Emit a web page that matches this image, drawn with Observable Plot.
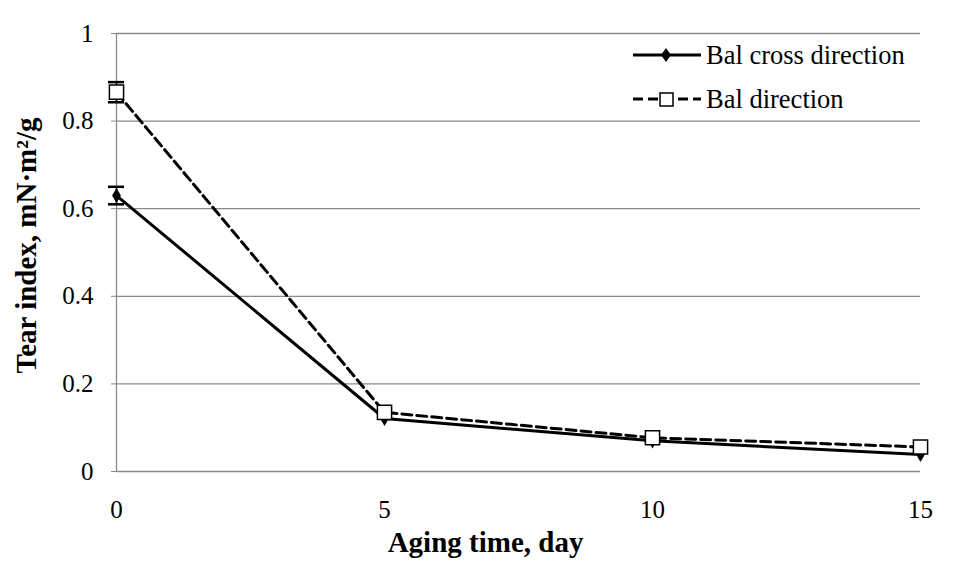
<!DOCTYPE html>
<html>
<head>
<meta charset="utf-8">
<script src="https://cdn.jsdelivr.net/npm/d3@7"></script>
<script src="https://cdn.jsdelivr.net/npm/@observablehq/plot@0.6"></script>
<style>
  html, body { margin: 0; padding: 0; background: #fff; }
  #wrap { position: relative; width: 962px; height: 579px; font-family: 'Liberation Serif', 'DejaVu Serif', serif; }
  #legend { position: absolute; left: 630px; top: 33px; width: 288px; font-size: 26.5px; color: #000; }
  #legend .row { display: flex; align-items: center; height: 44px; }
  #legend svg { display: block; margin-right: 2px; }
</style>
</head>
<body>
<div id="wrap"></div>
<script>
const days = [0, 5, 10, 15];
const crossValues = [0.630, 0.121, 0.070, 0.039];
const crossErrors = [0.020, 0, 0, 0];
const dirValues = [0.866, 0.135, 0.077, 0.056];
const dirErrors = [0.023, 0, 0, 0];
const seriesNames = ["Bal cross direction", "Bal direction"];
const yTicks = [0, 0.2, 0.4, 0.6, 0.8, 1];
const xTicks = [0, 5, 10, 15];

const cross = days.map((d, i) => ({day: d, value: crossValues[i], err: crossErrors[i]}));
const dir = days.map((d, i) => ({day: d, value: dirValues[i], err: dirErrors[i]}));
const errRows = [...cross, ...dir].filter(r => r.err > 0);
const caps = errRows.flatMap(r => [{day: r.day, y: r.value - r.err}, {day: r.day, y: r.value + r.err}]);
const capHalf = 0.15; // cap half-width in days

const serif = "'Liberation Serif', 'DejaVu Serif', serif";

const plot = Plot.plot({
  width: 962,
  height: 579,
  marginLeft: 116,
  marginRight: 42,
  marginTop: 33,
  marginBottom: 108,
  style: {fontFamily: serif, background: "#fff", color: "#000"},
  x: {type: "linear", domain: [0, 15], ticks: xTicks, axis: null},
  y: {type: "linear", domain: [0, 1], ticks: yTicks, axis: null},
  marks: [
    Plot.ruleY(yTicks, {stroke: "#8a8a8a", strokeWidth: 1.3}),
    Plot.ruleX([0], {stroke: "#8a8a8a", strokeWidth: 1.3}),
    Plot.axisY(yTicks, {tickSize: 5, tickPadding: 18, stroke: "#8a8a8a", fontSize: 25, tickFormat: d => String(d), label: null}),
    Plot.axisX(xTicks, {tickSize: 0, tickPadding: 29, fontSize: 25, tickFormat: d => String(d), label: null}),
    Plot.text(["Aging time, day"], {frameAnchor: "bottom", textAnchor: "middle", dx: -33, dy: 80, fontSize: 29, fontWeight: "bold"}),
    Plot.text(["Tear index, mN·m²/g"], {frameAnchor: "left", textAnchor: "middle", dx: -90, dy: -7, rotate: -90, fontSize: 29, fontWeight: "bold"}),
    Plot.line(cross, {x: "day", y: "value", stroke: "#000", strokeWidth: 3}),
    Plot.line(dir, {x: "day", y: "value", stroke: "#000", strokeWidth: 3, strokeDasharray: "10,5"}),
    Plot.ruleX(errRows, {x: "day", y1: d => d.value - d.err, y2: d => d.value + d.err, stroke: "#000", strokeWidth: 1.5}),
    Plot.ruleY(caps, {y: "y", x1: d => d.day - capHalf, x2: d => d.day + capHalf, stroke: "#000", strokeWidth: 2.5}),
    Plot.dot(cross, {x: "day", y: "value", symbol: "diamond", r: 4.6, fill: "#000", stroke: "none"}),
    Plot.dot(dir, {x: "day", y: "value", symbol: "square", r: 8, fill: "#fff", stroke: "#000", strokeWidth: 1.5})
  ]
});

document.getElementById("wrap").appendChild(plot);

const legend = document.createElement("div");
legend.id = "legend";
legend.innerHTML = `
  <div class="row"><svg width="74" height="20"><line x1="3" y1="10" x2="71" y2="10" stroke="#000" stroke-width="3"/><path d="M36,3 L41,10 L36,17 L31,10 Z" fill="#000"/></svg><span>${seriesNames[0]}</span></div>
  <div class="row"><svg width="74" height="20"><line x1="3" y1="10" x2="71" y2="10" stroke="#000" stroke-width="3" stroke-dasharray="10,5"/><rect x="30" y="4" width="13" height="13" fill="#fff" stroke="#000" stroke-width="1.5"/></svg><span>${seriesNames[1]}</span></div>`;
document.getElementById("wrap").appendChild(legend);
</script>
</body>
</html>
